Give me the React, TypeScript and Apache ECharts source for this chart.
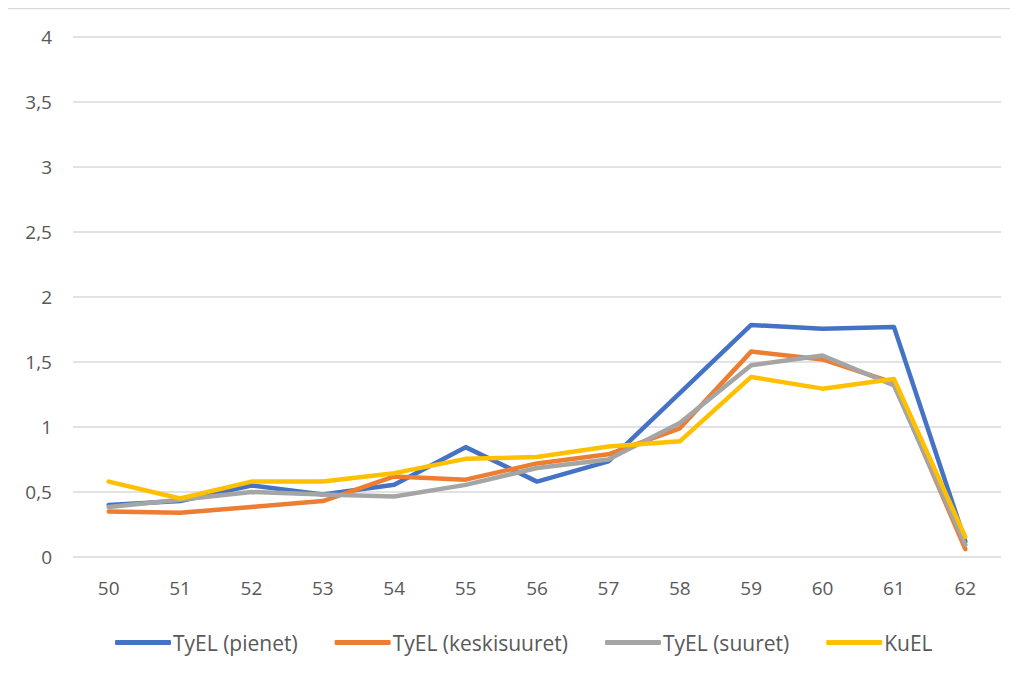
import React, { useEffect, useRef } from "react";
import * as echarts from "echarts";

const categories = ["50", "51", "52", "53", "54", "55", "56", "57", "58", "59", "60", "61", "62"];
const tyelPienet = [0.4, 0.43, 0.55, 0.48, 0.555, 0.845, 0.58, 0.735, 1.26, 1.785, 1.755, 1.77, 0.12];
const tyelKeskisuuret = [0.35, 0.34, 0.385, 0.43, 0.62, 0.595, 0.72, 0.79, 0.99, 1.58, 1.52, 1.34, 0.06];
const tyelSuuret = [0.385, 0.44, 0.5, 0.48, 0.465, 0.555, 0.685, 0.75, 1.03, 1.475, 1.55, 1.32, 0.095];
const kuel = [0.58, 0.45, 0.58, 0.58, 0.645, 0.755, 0.77, 0.85, 0.89, 1.385, 1.295, 1.37, 0.155];
const seriesNames = ["TyEL (pienet)", "TyEL (keskisuuret)", "TyEL (suuret)", "KuEL"];
const colors = ["#4472C4", "#ED7D31", "#A5A5A5", "#FFC000"];

export default function App() {
  const ref = useRef<HTMLDivElement>(null);
  useEffect(() => {
    if (!ref.current) return;
    const chart = echarts.init(ref.current, undefined, { renderer: "svg" });
    const font = "'Open Sans', 'Liberation Sans', sans-serif";
    const data = [tyelPienet, tyelKeskisuuret, tyelSuuret, kuel];
    chart.setOption({
      animation: false,
      backgroundColor: "#ffffff",
      textStyle: { fontFamily: font },
      graphic: [
        {
          type: "rect",
          shape: { x: 5.5, y: 8.5, width: 1100, height: 800 },
          style: { fill: "none", stroke: "#d9d9d9", lineWidth: 1.5 },
          silent: true,
        },
      ],
      grid: { left: 73, right: 17, top: 37, bottom: 117 },
      legend: {
        top: 627,
        left: 110,
        itemWidth: 56,
        itemHeight: 5,
        itemGap: 37,
        icon: "roundRect",
        textStyle: { color: "#595959", fontSize: 21, fontFamily: font, padding: [0, 0, 0, -3] },
        data: seriesNames,
      },
      xAxis: {
        type: "category",
        data: categories,
        boundaryGap: true,
        axisLine: { show: false },
        axisTick: { show: false },
        axisLabel: { color: "#595959", fontSize: 19, margin: 21, fontFamily: font },
      },
      yAxis: {
        type: "value",
        min: 0,
        max: 4,
        interval: 0.5,
        axisLine: { show: false },
        axisTick: { show: false },
        splitLine: { lineStyle: { color: "#d9d9d9", width: 1.5 } },
        axisLabel: {
          color: "#595959",
          fontSize: 19,
          margin: 21,
          fontFamily: font,
          formatter: (v: number) => String(v).replace(".", ","),
        },
      },
      series: seriesNames.map((name, i) => ({
        name,
        type: "line",
        data: data[i],
        symbol: "none",
        lineStyle: { color: colors[i], width: 4.5, cap: "round", join: "round" },
        itemStyle: { color: colors[i] },
      })),
    });
    return () => chart.dispose();
  }, []);
  return <div ref={ref} style={{ width: 1018, height: 674, margin: -8 }} />;
}
